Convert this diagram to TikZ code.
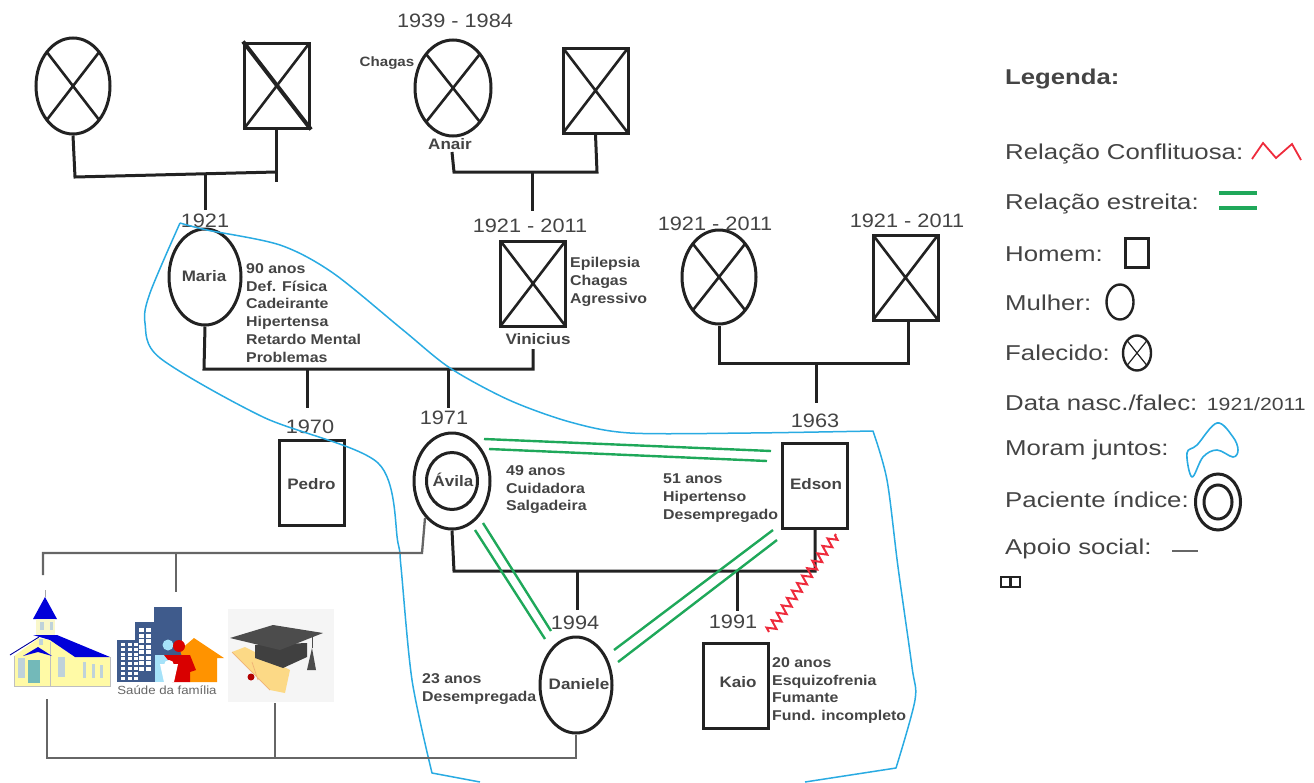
\documentclass[tikz,border=0pt]{standalone}
\usepackage{fontspec}
\setmainfont[FakeStretch=1.12]{Liberation Sans}
\newfontfamily\legfont[FakeStretch=1.2]{Liberation Sans}
\usetikzlibrary{shapes.geometric,decorations.pathmorphing}
\definecolor{ink}{HTML}{222222}
\definecolor{txt}{HTML}{444444}
\definecolor{lblue}{HTML}{29ABE2}
\definecolor{lgreen}{HTML}{1FA85A}
\definecolor{lred}{HTML}{EE2B3C}
\definecolor{sgray}{HTML}{666666}
\definecolor{bblue}{HTML}{3F5B8C}
\tikzset{
  x=1pt,y=-1pt,
  shapeline/.style={draw=ink,line width=3pt,inner sep=0pt,fill=none},
  woman/.style={shapeline,ellipse,minimum width=#1},
  woman/.default=72pt,
  man/.style={shapeline,rectangle,minimum width=65pt,minimum height=85pt},
  dead/.style={path picture={\draw[ink,line width=2.6pt]
     (path picture bounding box.north west)--(path picture bounding box.south east)
     (path picture bounding box.south west)--(path picture bounding box.north east);}},
  kin/.style={draw=ink,line width=3pt,line join=miter},
  support/.style={draw=sgray,line width=2.3pt},
  close/.style={draw=lgreen,line width=2.4pt},
  home/.style={draw=lblue,line width=1.5pt},
  year/.style={text=txt,font=\fontsize{19.4}{22}\selectfont,inner sep=0pt},
  lab/.style={text=txt,font=\bfseries\fontsize{14.2}{17.9}\selectfont,align=left,inner sep=0pt,anchor=north west},
  nm/.style={text=txt,font=\bfseries\fontsize{15.2}{18}\selectfont,inner sep=0pt},
  leg/.style={text=txt,font=\legfont\fontsize{21.5}{24}\selectfont,inner sep=0pt,anchor=west},
}
\begin{document}
\begin{tikzpicture}
\useasboundingbox (0,0) rectangle (1314,782);

% people
\node[woman=74pt,minimum height=96pt,dead] (gm1) at (73,86) {};
\node[man,dead] (gf1) at (277,85.5) {};
\draw[ink,line width=4pt] (gf1.north west) -- (gf1.south east);
\node[woman=76pt,minimum height=96pt,dead] (gm2) at (453,88) {};
\node[man,dead] (gf2) at (595.5,90.5) {};
\node[woman=72pt,minimum height=96pt] (maria) at (205,277) {};
\node[man,dead] (vin) at (533,283.5) {};
\node[woman=74pt,minimum height=94pt,dead] (gm3) at (719,277) {};
\node[man,dead] (gf3) at (905.5,277.5) {};
\node[man] (pedro) at (311.5,482.5) {};
\node[woman=76pt,minimum height=96pt] (avila) at (452,481) {};
\node[woman=51pt,minimum height=57pt] (avilain) at (452,481) {};
\node[man] (edson) at (815,486) {};
\node[woman=72pt,minimum height=96pt] (dan) at (576,685) {};
\node[man] (kaio) at (736,686) {};

% names
\node[nm] (nmaria) at (204,276) {Maria};
\node[nm] (nvin) at (538,339) {Vinicius};
\node[nm] (nana) at (450,144) {Anair};
\node[nm] (npedro) at (311.5,484) {Pedro};
\node[nm] (navila) at (453,480) {Ávila};
\node[nm] (nedson) at (816,484) {Edson};
\node[nm] (ndan) at (579,684) {Daniele};
\node[nm] (nkaio) at (738,682) {Kaio};
\node[text=txt,font=\bfseries\fontsize{13.5}{16}\selectfont,inner sep=0pt] (nchag) at (387,63) {Chagas};

% years
\node[year] (y1) at (455,21) {1939 - 1984};
\node[year] (y2) at (205,221) {1921};
\node[year] (y3) at (530,226) {1921 - 2011};
\node[year] (y4) at (715,224) {1921 - 2011};
\node[year] (y5) at (907,221) {1921 - 2011};
\node[year] (y6) at (310,427) {1970};
\node[year] (y7) at (444,418) {1971};
\node[year] (y8) at (815,421) {1963};
\node[year] (y9) at (575,623) {1994};
\node[year] (y10) at (733,622) {1991};

% notes
\node[lab] (l1) at (246,263) {90 anos\\Def. Física\\Cadeirante\\Hipertensa\\Retardo Mental\\Problemas};
\node[lab] (l2) at (570,257) {Epilepsia\\Chagas\\Agressivo};
\node[lab] (l3) at (506,465) {49 anos\\Cuidadora\\Salgadeira};
\node[lab] (l4) at (663,474) {51 anos\\Hipertenso\\Desempregado};
\node[lab] (l5) at (422,673) {23 anos\\Desempregada};
\node[lab] (l6) at (772,657) {20 anos\\Esquizofrenia\\Fumante\\Fund. incompleto};

% kinship junctions
\coordinate (j1a) at (75,177); \coordinate (j1b) at (276,172); \coordinate (j1end) at (276,182);
\coordinate (j1s) at (205,174); \coordinate (j1t) at (205,210);
\draw[kin] (gm1.south) -- (j1a) -- (j1b);
\draw[kin] (gf1.south -| j1b) -- (j1end);
\draw[kin] (j1s) -- (j1t);

\coordinate (anS) at (452,152); \coordinate (j2a) at (454,172); \coordinate (j2b) at (597,172);
\coordinate (j2s) at (532,172); \coordinate (j2t) at (532,211);
\draw[kin] (anS) -- (j2a) -- (j2b) -- (gf2.south);
\draw[kin] (j2s) -- (j2t);

\coordinate (j3a) at (204,369); \coordinate (j3b) at (533,369); \coordinate (vinS) at (533,349);
\coordinate (s6) at (307,408); \coordinate (s7) at (448,408);
\draw[kin] (maria.south) -- (j3a) -- (j3b) -- (vinS);
\draw[kin] (s6 |- j3a) -- (s6);
\draw[kin] (s7 |- j3a) -- (s7);

\coordinate (j4a) at (719,363); \coordinate (j4b) at (908,363); \coordinate (s8) at (816,403);
\draw[kin] (gm3.south) -- (j4a) -- (j4b) -- (gf3.south -| j4b);
\draw[kin] (s8 |- j4a) -- (s8);

\coordinate (j5a) at (454,571); \coordinate (j5b) at (815,571);
\coordinate (s9) at (577,610); \coordinate (s10) at (737,611);
\draw[kin] (avila.south) -- (j5a) -- (j5b) -- (edson.south);
\draw[kin] (s9 |- j5a) -- (s9);
\draw[kin] (s10 |- j5a) -- (s10);

% close relations
\coordinate (ga1) at (484,439); \coordinate (gb1) at (771,451);
\coordinate (ga2) at (489,449); \coordinate (gb2) at (767,461);
\coordinate (gc1) at (483,523); \coordinate (gd1) at (551,631);
\coordinate (gc2) at (475,530); \coordinate (gd2) at (545,639);
\coordinate (ge1) at (614,650); \coordinate (gf1e) at (773,530);
\coordinate (ge2) at (618,662); \coordinate (gf2e) at (777,540);
\draw[close] (ga1) -- (gb1);
\draw[close] (ga2) -- (gb2);
\draw[close] (gc1) -- (gd1);
\draw[close] (gc2) -- (gd2);
\draw[close] (ge1) -- (gf1e);
\draw[close] (ge2) -- (gf2e);

% conflict
\coordinate (ra) at (769,632); \coordinate (rb) at (836,534);
\draw[lred,line width=2pt,decorate,decoration={zigzag,segment length=9pt,amplitude=4.5pt}] (ra) -- (rb);

% household outline
\draw[home,line join=round] plot[smooth,tension=.5] coordinates {(180,223) (207,230) (280,245) (333,273) (403,330) (450,368) (509,400) (570,422) (630,433) (750,433) (873,431)}
  -- plot[smooth,tension=.5] coordinates {(873,431) (887,480) (898,567) (912,667) (915,700) (896,768)}
  -- (805,782);
\draw[home,line join=round] plot[smooth,tension=.5] coordinates {(180,223) (150,293) (145,323) (160,358) (263,417) (378,463) (398,543) (401,567) (412,680) (432,773)}
  -- (480,782);

% social support
\coordinate (sa) at (425,518); \coordinate (sb) at (422,553); \coordinate (sc) at (43,553);
\coordinate (churchT) at (43,575); \coordinate (usfT) at (176,592); \coordinate (usfJ) at (176,553);
\coordinate (churchB) at (47,699); \coordinate (cb) at (47,758);
\coordinate (capB) at (275,703); \coordinate (capJ) at (275,758);
\coordinate (danJ) at (576,758);
\draw[support] (sa) -- (sb) -- (sc) -- (churchT);
\draw[support] (usfJ) -- (usfT);
\draw[support] (churchB) -- (cb) -- (danJ) -- (dan.south);
\draw[support] (capB) -- (capJ);

% church icon
\draw[gray!70,line width=.5pt] (45,597) -- (45,590);
\fill[blue!85!black] (45,597) -- (33,619) -- (57,619) -- cycle;
\fill[yellow!20!white!95!gray] (36,619) rectangle (55,636);
\fill[yellow!35!white] (14,656) -- (39,638) -- (50,640) -- (75,657) -- (110,657) -- (110,686) -- (14,686) -- cycle;
\draw[gray!50,line width=.5pt] (14,656) -- (14,686) -- (110,686) -- (110,657);
\draw[gray!50,line width=.6pt] (50,642) -- (50,686);
\fill[blue!85!black] (33,635) -- (57,635) -- (110,657) -- (75,657) -- (50,640) -- cycle;
\draw[blue!60!black,line width=.9pt] (10,655) -- (39,637);
\fill[blue!85!black] (23,656) -- (38,647) -- (52,656) -- (38,652) -- cycle;
\fill[teal!55!white] (28,660) rectangle (40,683);
\foreach \xa/\ya/\xb/\yb in {18/658/25/678,58/657/65/677,83/662/86/678,92/664/95/678,100/665/103/678,39/639/43/645,40/622/44/630,50/622/53/630}
  \fill[cyan!30!gray!45!white] (\xa,\ya) rectangle (\xb,\yb);

% health icon
\fill[bblue] (154,607) rectangle (182,673);
\fill[bblue] (135,622) rectangle (154,682);
\fill[bblue] (117,640) rectangle (156,682);
\foreach \i in {0,...,7}{\foreach \j in {0,1,2}{\fill[white] (121+\j*6.5,643+\i*4.8) rectangle (125+\j*6.5,646+\i*4.8);}}
\foreach \i in {0,...,7}{\fill[white] (139,628+\i*5.5) rectangle (144,632+\i*5.5);\fill[white] (146,628+\i*5.5) rectangle (151,632+\i*5.5);}
\fill[orange!85!yellow] (194,638) -- (224,658) -- (217,658) -- (217,682) -- (190,682) -- (180,650) -- cycle;
\fill[cyan!35!white] (155,655) rectangle (172,682);
\fill[cyan!35!white] (168,645) circle (5.5);
\fill[red!85!black] (164,655) -- (190,655) -- (196,670) -- (190,672) -- (190,682) -- (172,682) -- (172,665) -- cycle;
\fill[red!85!black] (179,646) circle (6);
\fill[white] (160,664) -- (178,664) -- (174,682) -- (164,682) -- cycle;
\fill[white] (169,665) circle (5);
\node[inner sep=0pt,text=black!60,font=\fontsize{11.8}{13}\selectfont] (usfname) at (167,690) {Saúde da família};

% graduation icon
\fill[black!4] (228,609) rectangle (334,702);
\fill[yellow!40!orange!45!white] (232,652) -- (245,647) -- (290,670) -- (285,693) -- (270,690) -- cycle;
\draw[orange!60!brown!60!white,line width=.7pt] (252,662) -- (258,680) (232,652) -- (270,690);
\fill[red!70!black] (251,677) circle (3.5);
\fill[black!75] (255,645) -- (255,658) -- (283,668) -- (307,657) -- (307,643) -- cycle;
\fill[black!70] (230,638) -- (273,625) -- (323,633) -- (280,650) -- cycle;
\draw[black!70,line width=1pt] (312,636) -- (312,648);
\fill[black!70] (307,670) -- (316,670) -- (312,648) -- cycle;

% legend
\node[text=txt,font=\legfont\bfseries\fontsize{21.4}{24}\selectfont,inner sep=0pt,anchor=west] (lg0) at (1005,79) {Legenda:};
\node[leg] (lg1) at (1005,154) {Relação Conflituosa:};
\node[leg] (lg2) at (1005,204) {Relação estreita:};
\node[leg] (lg3) at (1005,254) {Homem:};
\node[leg] (lg4) at (1005,303) {Mulher:};
\node[leg] (lg5) at (1005,353) {Falecido:};
\node[leg] (lg6) at (1005,403) {Data nasc./falec: {\fontsize{17.7}{20}\selectfont 1921/2011}};
\node[leg] (lg7) at (1005,450) {Moram juntos:};
\node[leg] (lg8) at (1005,500) {Paciente índice:};
\node[leg] (lg9) at (1005,549) {Apoio social:};

\coordinate (r1) at (1252,159); \coordinate (r2) at (1263,143); \coordinate (r3) at (1276,158); \coordinate (r4) at (1292,144); \coordinate (r5) at (1301,160);
\draw[lred,line width=1.8pt] (r1) -- (r2) -- (r3) -- (r4) -- (r5);
\coordinate (g1) at (1219,193); \coordinate (g2) at (1257,193); \coordinate (g3) at (1219,208); \coordinate (g4) at (1257,208);
\draw[lgreen,line width=3.4pt] (g1) -- (g2) (g3) -- (g4);
\node[shapeline,rectangle,minimum width=23pt,minimum height=29pt,line width=2.4pt] (lhom) at (1137,253) {};
\node[shapeline,ellipse,minimum width=27pt,minimum height=35pt,line width=2.4pt] (lmul) at (1120,302) {};
\node[shapeline,ellipse,minimum width=28pt,minimum height=35pt,line width=2.4pt,path picture={\draw[ink,line width=1.2pt]
     (path picture bounding box.north west)--(path picture bounding box.south east)
     (path picture bounding box.south west)--(path picture bounding box.north east);}] (lfal) at (1137,353) {};
\draw[home,line width=1.6pt,line join=round] plot[smooth cycle,tension=.6] coordinates {(1192,477) (1187,453) (1197,445) (1217,423) (1233,437) (1238,450) (1233,457) (1217,450) (1203,457)};
\node[shapeline,ellipse,minimum width=45pt,minimum height=56pt] (lpo) at (1218,502) {};
\node[shapeline,ellipse,minimum width=28pt,minimum height=34pt] (lpi) at (1218,502) {};
\coordinate (a1) at (1172,551); \coordinate (a2) at (1198,551);
\draw[support] (a1) -- (a2);
\draw[ink,line width=1.5pt] (1001,577) rectangle (1010,587) (1011,577) rectangle (1020,587);
\end{tikzpicture}
\end{document}
